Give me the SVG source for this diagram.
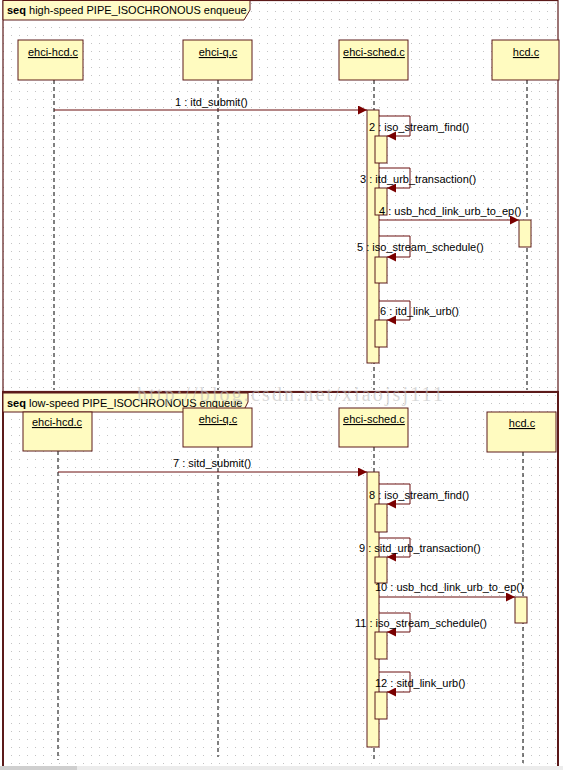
<svg xmlns="http://www.w3.org/2000/svg" width="563" height="770" viewBox="0 0 563 770">
<defs>
<pattern id="dots" x="0" y="0" width="8" height="8" patternUnits="userSpaceOnUse">
<rect x="3" y="3" width="1" height="1" fill="#c4c4c4"/>
</pattern>
<marker id="ah" viewBox="0 0 10 10" refX="10" refY="5" markerWidth="10" markerHeight="9" markerUnits="userSpaceOnUse" orient="auto">
<path d="M0,0 L10,5 L0,10 Z" fill="#7a0000"/>
</marker>
<style>
.frame{fill:none;stroke:#5c1a1a;stroke-width:1.2}
.tab{fill:#fffbc8;stroke:#5c1a1a;stroke-width:1}
.box{fill:#fffbc0;stroke:#5c1a1a;stroke-width:1}
.act{fill:#fffbc0;stroke:#5c1a1a;stroke-width:1}
.life{stroke:#000;stroke-width:1;stroke-dasharray:4,3;fill:none}
.msg{stroke:#6b0f0f;stroke-width:1;fill:none;marker-end:url(#ah)}
text{font-family:"Liberation Sans",Arial,sans-serif;font-size:11px;fill:#000}
.name{text-anchor:middle;text-decoration:underline}
.wm{font-family:"Liberation Serif",serif;font-size:20px;fill:#bfbfbf;opacity:0.6}
</style>
</defs>
<rect width="563" height="770" fill="#ffffff"/>
<rect x="3" y="0" width="555" height="766" fill="url(#dots)"/>

<g id="frame1">
<rect class="frame" x="3" y="0.5" width="555" height="391"/>
<path class="tab" d="M3,0.5 L250,0.5 L250,10 L244,20 L3,20 Z"/>
<text x="7" y="14"><tspan font-weight="bold">seq</tspan> high-speed PIPE_ISOCHRONOUS enqueue</text>
</g>
<g id="frame2">
<rect class="frame" x="3" y="392" width="555" height="380" style="stroke-width:2"/>
<path class="tab" d="M3,393 L248,393 L248,402 L243,412 L3,412 Z"/>
<text x="7" y="407"><tspan font-weight="bold">seq</tspan> low-speed PIPE_ISOCHRONOUS enqueue</text>
</g>

<g id="lifelines">
<line class="life" x1="54" y1="80" x2="54" y2="390"/>
<line class="life" x1="218" y1="80" x2="218" y2="390"/>
<line class="life" x1="374" y1="80" x2="374" y2="390"/>
<line class="life" x1="527" y1="80" x2="527" y2="390"/>
<line class="life" x1="58" y1="451" x2="58" y2="760"/>
<line class="life" x1="218" y1="447" x2="218" y2="757"/>
<line class="life" x1="374" y1="447" x2="374" y2="760"/>
<line class="life" x1="523" y1="452" x2="523" y2="763"/>
</g>

<g id="hs-ehci-hcd"><rect class="box" x="18" y="40" width="65" height="40"/><text class="name" x="53" y="56">ehci-hcd.c</text></g>
<g id="hs-ehci-q"><rect class="box" x="183" y="40" width="69" height="40"/><text class="name" x="218" y="56">ehci-q.c</text></g>
<g id="hs-ehci-sched"><rect class="box" x="339" y="40" width="69" height="40"/><text class="name" x="374" y="56">ehci-sched.c</text></g>
<g id="hs-hcd"><rect class="box" x="492" y="40" width="67" height="40"/><text class="name" x="526" y="56">hcd.c</text></g>

<g id="ls-ehci-hcd"><rect class="box" x="23" y="412" width="69" height="39"/><text class="name" x="57" y="426">ehci-hcd.c</text></g>
<g id="ls-ehci-q"><rect class="box" x="183" y="408" width="69" height="39"/><text class="name" x="218" y="423">ehci-q.c</text></g>
<g id="ls-ehci-sched"><rect class="box" x="339" y="408" width="69" height="39"/><text class="name" x="374" y="423">ehci-sched.c</text></g>
<g id="ls-hcd"><rect class="box" x="487" y="412" width="69" height="40"/><text class="name" x="522" y="427">hcd.c</text></g>

<g id="activations">
<rect class="act" x="367" y="110" width="12" height="253"/>
<rect class="act" x="375" y="136" width="12" height="27"/>
<rect class="act" x="375" y="188" width="12" height="27"/>
<rect class="act" x="519" y="220" width="12" height="27"/>
<rect class="act" x="375" y="257" width="12" height="26"/>
<rect class="act" x="375" y="320" width="12" height="27"/>
<rect class="act" x="367" y="472" width="12" height="275"/>
<rect class="act" x="375" y="504" width="12" height="28"/>
<rect class="act" x="375" y="557" width="12" height="26"/>
<rect class="act" x="515" y="597" width="12" height="26"/>
<rect class="act" x="375" y="632" width="12" height="27"/>
<rect class="act" x="375" y="692" width="12" height="27"/>
</g>

<g id="connectors">
<line class="msg" x1="54" y1="110" x2="367" y2="110"/>
<polyline class="msg" points="379,116 410,116 410,136 387,136"/>
<polyline class="msg" points="379,168 410,168 410,188 387,188"/>
<line class="msg" x1="379" y1="220" x2="519" y2="220"/>
<polyline class="msg" points="379,236 410,236 410,257 387,257"/>
<polyline class="msg" points="379,301 410,301 410,320 387,320"/>
<line class="msg" x1="58" y1="472" x2="367" y2="472"/>
<polyline class="msg" points="379,484 410,484 410,504 387,504"/>
<polyline class="msg" points="379,538 410,538 410,557 387,557"/>
<line class="msg" x1="379" y1="597" x2="515" y2="597"/>
<polyline class="msg" points="379,613 410,613 410,632 387,632"/>
<polyline class="msg" points="379,672 410,672 410,692 387,692"/>
</g>

<g id="labels">
<text x="175" y="106">1 : itd_submit()</text>
<text x="369" y="131">2 : iso_stream_find()</text>
<text x="360" y="183">3 : itd_urb_transaction()</text>
<text x="379" y="215">4 : usb_hcd_link_urb_to_ep()</text>
<text x="357" y="251">5 : iso_stream_schedule()</text>
<text x="380" y="315">6 : itd_link_urb()</text>
<text x="173" y="467">7 : sitd_submit()</text>
<text x="369" y="499">8 : iso_stream_find()</text>
<text x="359" y="552">9 : sitd_urb_transaction()</text>
<text x="375" y="591">10 : usb_hcd_link_urb_to_ep()</text>
<text x="355" y="627">11 : iso_stream_schedule()</text>
<text x="375" y="687">12 : sitd_link_urb()</text>
</g>

<text class="wm" x="137" y="401" textLength="306" lengthAdjust="spacing">http://blog.csdn.net/xiaojsj111</text>

<rect x="0" y="766" width="563" height="4" fill="#ececec"/>
<rect x="0" y="766" width="77" height="4" fill="#cfcfcf"/>
</svg>
